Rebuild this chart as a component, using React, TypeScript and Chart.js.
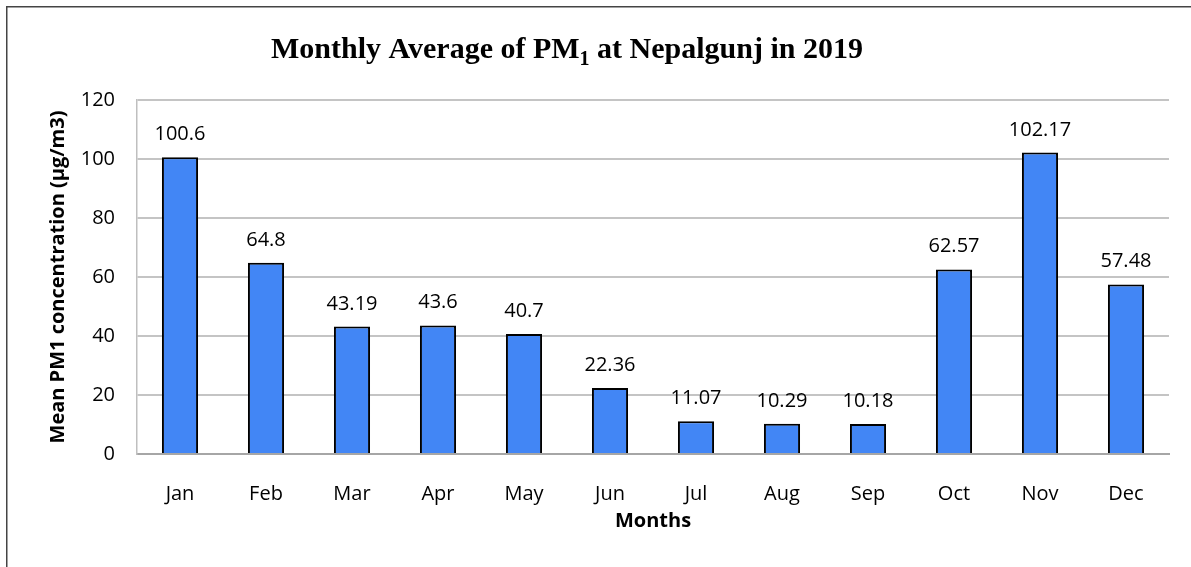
import React, { useEffect, useRef } from "react";
import { Chart, registerables } from "chart.js";

Chart.register(...registerables);

const months = ["Jan", "Feb", "Mar", "Apr", "May", "Jun", "Jul", "Aug", "Sep", "Oct", "Nov", "Dec"];
const pm1Values = [100.6, 64.8, 43.19, 43.6, 40.7, 22.36, 11.07, 10.29, 10.18, 62.57, 102.17, 57.48];
const pm1Labels = ["100.6", "64.8", "43.19", "43.6", "40.7", "22.36", "11.07", "10.29", "10.18", "62.57", "102.17", "57.48"];
const yTicks = { min: 0, max: 120, step: 20 };

const W = 1191;
const H = 567;

const framePlugin = {
  id: "frame",
  beforeDraw(chart: any) {
    const ctx = chart.ctx;
    ctx.save();
    ctx.fillStyle = "#ffffff";
    ctx.fillRect(0, 0, W, H);
    ctx.fillStyle = "#444444";
    ctx.fillRect(6, 6, 1.5, H);
    ctx.fillRect(6, 6, W, 1.5);
    ctx.restore();
  },
};

const titlePlugin = {
  id: "customTitle",
  afterDraw(chart: any) {
    const ctx = chart.ctx;
    ctx.save();
    const main = "bold 30px 'Liberation Serif', 'DejaVu Serif', serif";
    const sub = "bold 20px 'Liberation Serif', 'DejaVu Serif', serif";
    const p1 = "Monthly Average of PM";
    const p2 = "1";
    const p3 = " at Nepalgunj in 2019";
    ctx.font = main;
    const w1 = ctx.measureText(p1).width;
    const w3 = ctx.measureText(p3).width;
    ctx.font = sub;
    const w2 = ctx.measureText(p2).width;
    const total = w1 + w2 + w3;
    let x = 567 - total / 2;
    const baseline = 58;
    ctx.fillStyle = "#000000";
    ctx.textBaseline = "alphabetic";
    ctx.textAlign = "left";
    ctx.font = main;
    ctx.fillText(p1, x, baseline);
    x += w1;
    ctx.font = sub;
    ctx.fillText(p2, x, baseline + 7);
    x += w2;
    ctx.font = main;
    ctx.fillText(p3, x, baseline);
    ctx.restore();
  },
};

const dataLabelPlugin = {
  id: "dataLabels",
  afterDatasetsDraw(chart: any) {
    const ctx = chart.ctx;
    const meta = chart.getDatasetMeta(0);
    ctx.save();
    ctx.font = "20px 'Open Sans', sans-serif";
    ctx.fillStyle = "#000000";
    ctx.textAlign = "center";
    ctx.textBaseline = "alphabetic";
    meta.data.forEach((bar: any, i: number) => {
      ctx.fillText(pm1Labels[i], bar.x, bar.y - 17);
    });
    ctx.restore();
  },
};

export default function App() {
  const ref = useRef<HTMLCanvasElement>(null);

  useEffect(() => {
    document.documentElement.style.overflow = "hidden";
    document.body.style.overflow = "hidden";
    if (!ref.current) return;
    const chart = new Chart(ref.current, {
      type: "bar",
      data: {
        labels: months,
        datasets: [
          {
            data: pm1Values,
            backgroundColor: "#4286F5",
            borderColor: "#000000",
            borderWidth: 2,
            barPercentage: 0.42,
            categoryPercentage: 1,
          },
        ],
      },
      options: {
        animation: false,
        responsive: false,
        devicePixelRatio: 1,
        layout: { padding: { left: 0, right: 22, top: 100, bottom: 0 } },
        plugins: {
          legend: { display: false },
          title: { display: false },
          tooltip: { enabled: false },
        },
        scales: {
          x: {
            offset: true,
            grid: { display: false },
            border: { display: true, color: "#A6A6A6", width: 2 },
            ticks: {
              color: "#000000",
              font: { family: "'Open Sans', sans-serif", size: 20 },
              padding: 20,
              maxRotation: 0,
            },
            title: {
              display: true,
              text: "Months",
              color: "#000000",
              font: { family: "'Open Sans', sans-serif", size: 20, weight: "bold" },
              padding: { top: 0, bottom: 34 },
            },
            afterFit(scale: any) {
              scale.height = 113;
            },
          },
          y: {
            min: yTicks.min,
            max: yTicks.max,
            grid: { color: "#C4C4C4", lineWidth: 2, drawTicks: false },
            border: { display: true, color: "#BFBFBF", width: 1.5 },
            ticks: {
              stepSize: yTicks.step,
              color: "#000000",
              font: { family: "'Open Sans', sans-serif", size: 20 },
              padding: 22,
            },
            title: {
              display: true,
              text: "Mean PM1 concentration (µg/m3)",
              color: "#000000",
              font: { family: "'Open Sans', sans-serif", size: 20, weight: "bold" },
              padding: { top: 46, bottom: 0 },
            },
            afterFit(scale: any) {
              scale.width = 137;
            },
          },
        },
      },
      plugins: [framePlugin, titlePlugin, dataLabelPlugin],
    });
    return () => chart.destroy();
  }, []);

  return (
    <div style={{ position: "fixed", left: 0, top: 0, width: W, height: H, background: "#fff", overflow: "hidden" }}>
      <canvas ref={ref} width={W} height={H} style={{ display: "block", width: W, height: H }} />
    </div>
  );
}
